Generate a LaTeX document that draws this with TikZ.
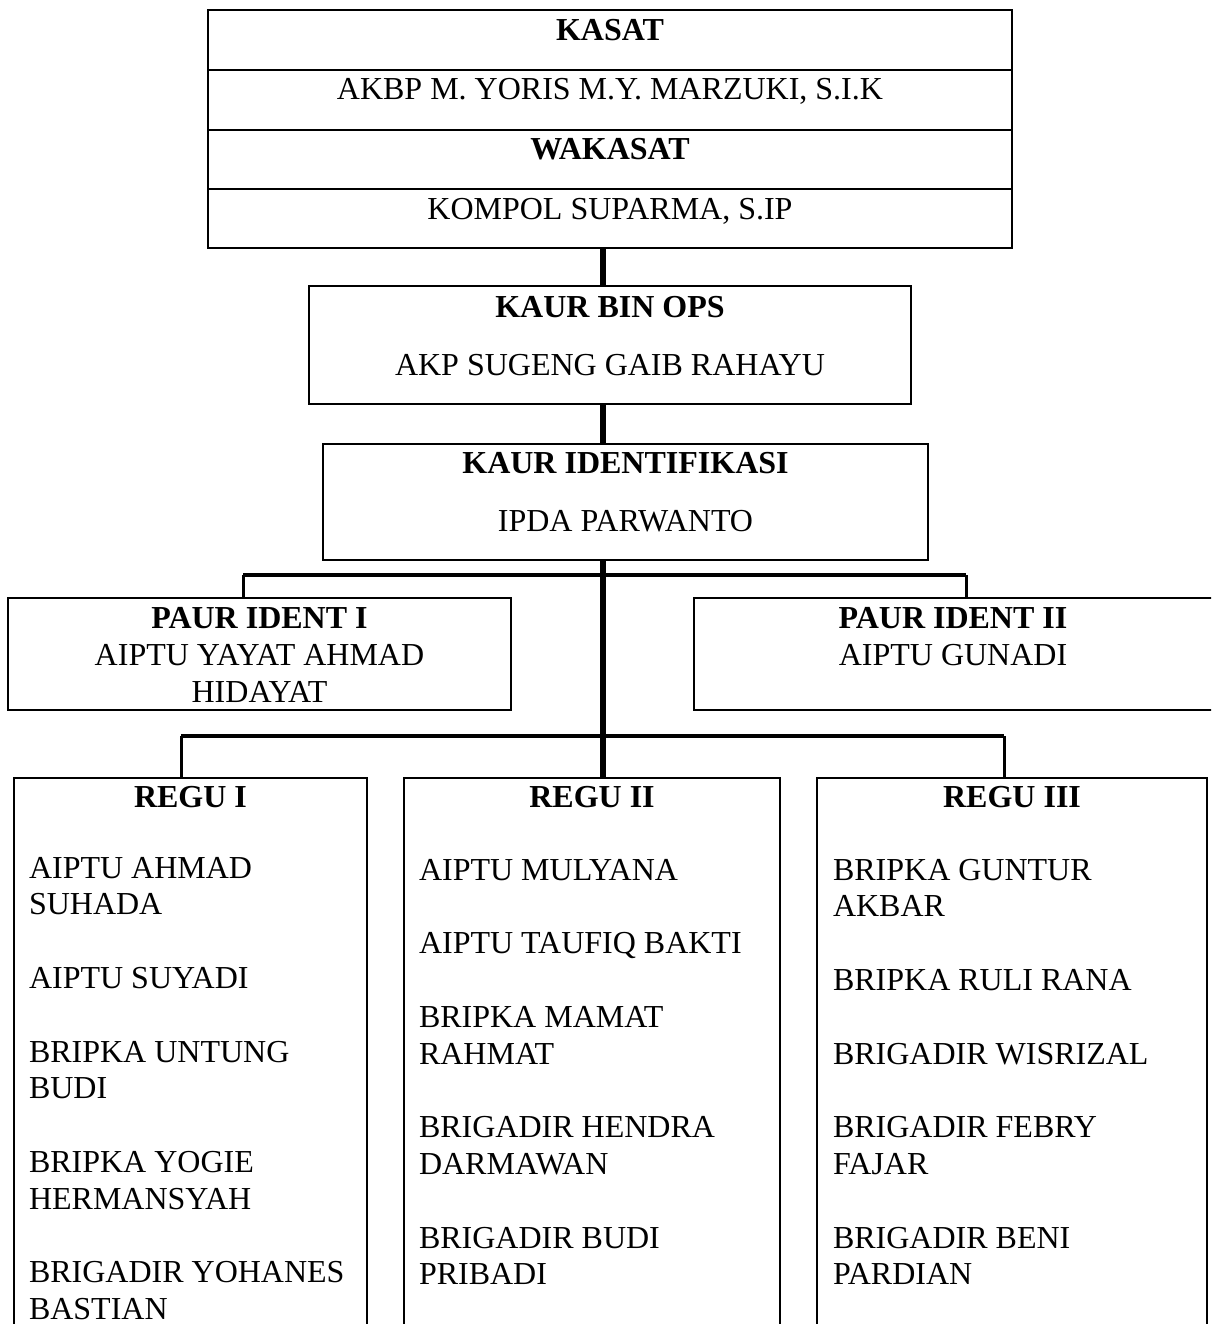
\documentclass[tikz,border=0pt]{standalone}
\usepackage{fontspec}
\setmainfont{Liberation Serif}
\begin{document}
\begin{tikzpicture}[x=1pt,y=-1pt,
  box/.style={draw, line width=2.6pt, inner sep=0pt, outer sep=0pt},
  txt/.style={inner sep=0pt, outer sep=0pt, anchor=base, font=\fontsize{32}{36.8}\selectfont},
  btxt/.style={inner sep=0pt, outer sep=0pt, anchor=base, font=\fontsize{32}{36.8}\selectfont\bfseries},
  ctxt/.style={inner sep=0pt, outer sep=0pt, anchor=base, align=center, font=\fontsize{32}{37}\selectfont},
  lst/.style={inner sep=0pt, outer sep=0pt, anchor=base west, align=left, font=\fontsize{32}{36.8}\selectfont},
  divider/.style={line width=2.6pt},
  trunk/.style={line width=5.5pt},
  bar/.style={line width=3.5pt},
  drop/.style={line width=3pt}]
\useasboundingbox (0,0) rectangle (1211,1324);
\clip (0,0) rectangle (1211,1324);

% top box
\node[box, minimum width=804pt, minimum height=238pt] (top) at (610,129) {};
\coordinate (r1) at (0,70);
\coordinate (r2) at (0,130);
\coordinate (r3) at (0,189);
\draw[divider] (top.west |- r1) -- (top.east |- r1);
\draw[divider] (top.west |- r2) -- (top.east |- r2);
\draw[divider] (top.west |- r3) -- (top.east |- r3);
\node[btxt] (kasat) at (610,41) {KASAT};
\node[txt] (kasatname) at (610,100) {AKBP M. YORIS M.Y. MARZUKI, S.I.K};
\node[btxt] (wakasat) at (610,160) {WAKASAT};
\node[txt] (wakasatname) at (610,220) {KOMPOL SUPARMA, S.IP};

% kaur bin ops
\node[box, minimum width=602pt, minimum height=118pt] (binops) at (610,345) {};
\node[btxt] (binopst) at (610,317) {KAUR BIN OPS};
\node[txt] (binopsn) at (610,375) {AKP SUGENG GAIB RAHAYU};

% kaur identifikasi
\node[box, minimum width=605pt, minimum height=116pt] (ident) at (625.5,502) {};
\node[btxt] (identt) at (625.5,473) {KAUR IDENTIFIKASI};
\node[txt] (identn) at (625.5,531) {IPDA PARWANTO};

% paur
\node[box, minimum width=503pt, minimum height=112pt] (paur1) at (259.5,654) {};
\node[btxt] (paur1t) at (259.5,628) {PAUR IDENT I};
\node[ctxt] (paur1n) at (259.5,702) {AIPTU YAYAT AHMAD\\HIDAYAT};
\node[box, minimum width=519pt, minimum height=112pt] (paur2) at (953.5,654) {};
\node[btxt] (paur2t) at (953,628) {PAUR IDENT II};
\node[txt] (paur2n) at (953,665) {AIPTU GUNADI};

% regu boxes
\node[box, minimum width=353pt, minimum height=567pt] (regu1) at (190.5,1061.5) {};
\node[box, minimum width=376pt, minimum height=567pt] (regu2) at (592,1061.5) {};
\node[box, minimum width=390pt, minimum height=567pt] (regu3) at (1012,1061.5) {};
\node[btxt] (regu1t) at (190.5,807) {REGU I};
\node[btxt] (regu2t) at (592,807) {REGU II};
\node[btxt] (regu3t) at (1012,807) {REGU III};
% base anchor of a multi-line node is the baseline of its last line
\node[lst] (regu1l) at (29,1319.6) {AIPTU AHMAD\\SUHADA\\[36.8pt]AIPTU SUYADI\\[36.8pt]BRIPKA UNTUNG\\BUDI\\[36.8pt]BRIPKA YOGIE\\HERMANSYAH\\[36.8pt]BRIGADIR YOHANES\\BASTIAN};
\node[lst] (regu2l) at (419,1284.8) {AIPTU MULYANA\\[36.8pt]AIPTU TAUFIQ BAKTI\\[36.8pt]BRIPKA MAMAT\\RAHMAT\\[36.8pt]BRIGADIR HENDRA\\DARMAWAN\\[36.8pt]BRIGADIR BUDI\\PRIBADI};
\node[lst] (regu3l) at (833,1284.8) {BRIPKA GUNTUR\\AKBAR\\[36.8pt]BRIPKA RULI RANA\\[36.8pt]BRIGADIR WISRIZAL\\[36.8pt]BRIGADIR FEBRY\\FAJAR\\[36.8pt]BRIGADIR BENI\\PARDIAN};

% connectors
\coordinate (tx) at (603,0);
\draw[trunk] (tx |- top.south) -- (tx |- binops.north);
\draw[trunk] (tx |- binops.south) -- (tx |- ident.north);
\draw[trunk] (tx |- ident.south) -- (tx |- regu2.north);
\coordinate (d1) at (243,575);
\coordinate (d2) at (966,575);
\coordinate (d3) at (181,736);
\coordinate (d4) at (1004,736);
\draw[bar] (d1) -- (d2);
\draw[drop] (d1) -- (d1 |- paur1.north);
\draw[drop] (d2) -- (d2 |- paur2.north);
\draw[bar] (d3) -- (d4);
\draw[drop] (d3) -- (d3 |- regu1.north);
\draw[drop] (d4) -- (d4 |- regu3.north);
\end{tikzpicture}
\end{document}
